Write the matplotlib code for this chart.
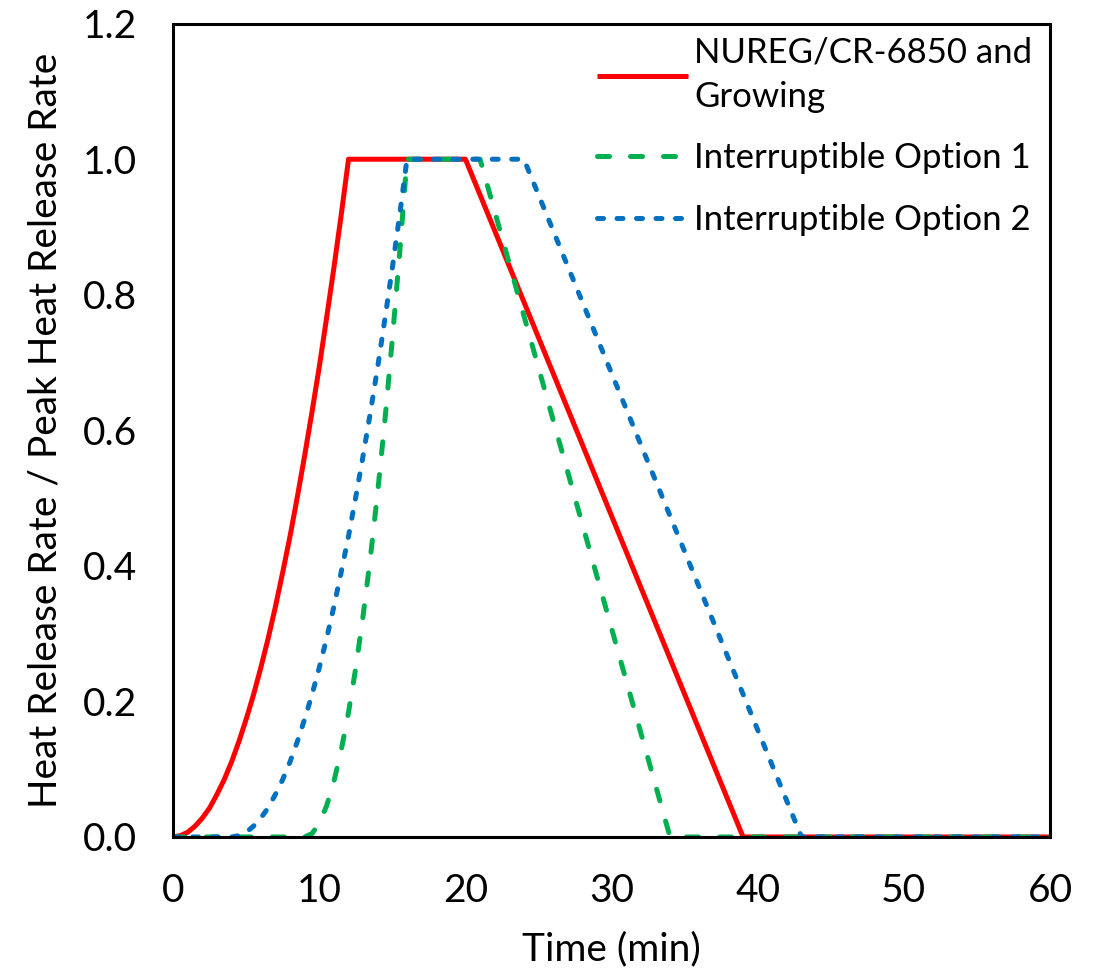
import matplotlib
matplotlib.use('Agg')
import matplotlib.pyplot as plt

# values (time in min, normalised HRR)
red_t = [0, 0.5, 1, 1.5, 2, 2.5, 3, 3.5, 4, 4.5, 5, 5.5, 6, 6.5, 7, 7.5, 8, 8.5, 9,
         9.5, 10, 10.5, 11, 11.5, 12, 20, 39, 60]
red_y = [0, 0.002, 0.007, 0.016, 0.028, 0.043, 0.063, 0.085, 0.111, 0.141, 0.174,
         0.21, 0.25, 0.293, 0.34, 0.391, 0.444, 0.502, 0.563, 0.627, 0.694, 0.766,
         0.84, 0.918, 1.0, 1.0, 0, 0]

green_t = [0, 9, 9.5, 10, 10.5, 11, 11.5, 12, 12.5, 13, 13.5, 14, 14.5, 15, 15.5, 16,
           21, 34, 60]
green_y = [0, 0, 0.005, 0.02, 0.046, 0.082, 0.128, 0.184, 0.25, 0.327, 0.413, 0.51,
           0.617, 0.735, 0.862, 1.0, 1.0, 0, 0]

blue_t = [0, 4, 4.5, 5, 5.5, 6, 6.5, 7, 7.5, 8, 8.5, 9, 9.5, 10, 10.5, 11, 11.5, 12,
          12.5, 13, 13.5, 14, 14.5, 15, 15.5, 16, 24, 43, 60]
blue_y = [0, 0, 0.002, 0.007, 0.016, 0.028, 0.043, 0.063, 0.085, 0.111, 0.141, 0.174,
          0.21, 0.25, 0.293, 0.34, 0.391, 0.444, 0.502, 0.563, 0.627, 0.694, 0.766,
          0.84, 0.918, 1.0, 1.0, 0, 0]

labels = ['NUREG/CR-6850 and\nGrowing', 'Interruptible Option 1', 'Interruptible Option 2']
x_ticks = [0, 10, 20, 30, 40, 50, 60]
y_ticks = [0.0, 0.2, 0.4, 0.6, 0.8, 1.0, 1.2]

plt.rcParams['font.family'] = ['Lato', 'DejaVu Sans']
fs = 28

fig = plt.figure(figsize=(10.96, 9.74), dpi=100)
ax = fig.add_axes([0.158, 0.1407, 0.8, 0.835])

ax.plot(red_t, red_y, color='#FF0000', lw=3.6, label=labels[0], solid_capstyle='butt')
ax.plot(green_t, green_y, color='#00B050', lw=3.6, linestyle=(0, (2.4, 4.2)),
        dash_capstyle='round', label=labels[1])
ax.plot(blue_t, blue_y, color='#0070C0', lw=3.6, linestyle=(0, (1.2, 2.7)),
        dash_capstyle='round', label=labels[2])

ax.set_xlim(0, 60)
ax.set_ylim(0, 1.2)
ax.set_xticks(x_ticks)
ax.set_yticks(y_ticks)
ax.set_xticklabels([str(v) for v in x_ticks])
ax.set_yticklabels(['%.1f' % v for v in y_ticks])
ax.tick_params(length=0, labelsize=fs, pad=26)
for s in ax.spines.values():
    s.set_linewidth(2.2)
    s.set_color('black')

ax.set_xlabel('Time (min)', fontsize=fs, labelpad=16)
ax.set_ylabel('Heat Release Rate / Peak Heat Release Rate', fontsize=fs, labelpad=14)

leg = ax.legend(loc='upper right', bbox_to_anchor=(1.0, 1.005), frameon=False,
                fontsize=25, handlelength=2.6, handletextpad=0.2,
                labelspacing=0.85, borderaxespad=0.1)
for t in leg.get_texts():
    t.set_linespacing(1.45)

fig.savefig('out.png', dpi=100)
